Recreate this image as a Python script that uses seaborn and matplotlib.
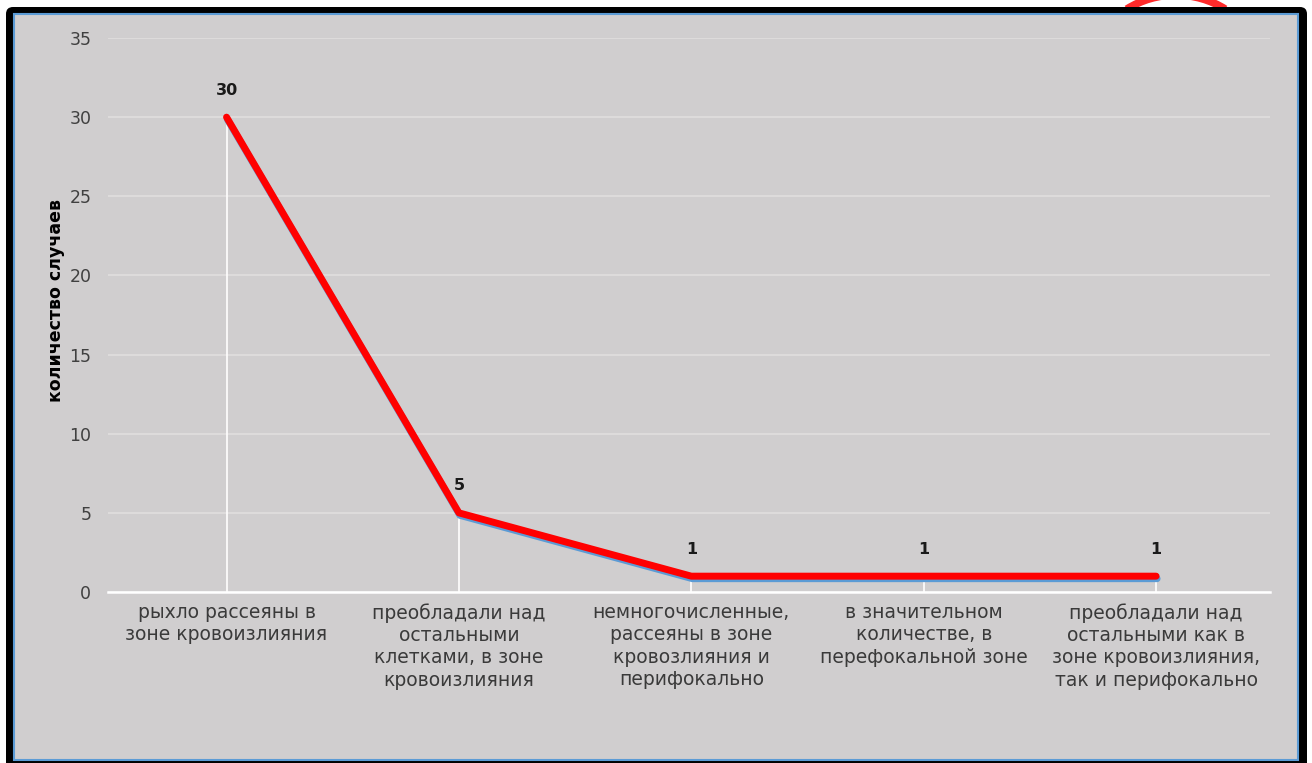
import matplotlib
matplotlib.use('Agg')
import matplotlib.pyplot as plt
import matplotlib.transforms as mtransforms
from matplotlib.patches import FancyBboxPatch, Rectangle, Arc
import numpy as np
import pandas as pd
import seaborn as sns

#%% data
categories = ['рыхло рассеяны в\nзоне кровоизлияния',
              'преобладали над\nостальными\nклетками, в зоне\nкровоизлияния',
              'немногочисленные,\nрассеяны в зоне\nкровозлияния и\nперифокально',
              'в значительном\nколичестве, в\nперефокальной зоне',
              'преобладали над\nостальными как в\nзоне кровоизлияния,\nтак и перифокально']
cases = [30, 5, 1, 1, 1]
yticks = [0, 5, 10, 15, 20, 25, 30, 35]

df = pd.DataFrame({'pos': np.arange(len(categories)), 'cases': cases})

#%% figure
sns.set_theme(style='white')
plt.rcParams['font.family'] = ['DejaVu Sans']

fig = plt.figure(figsize=(13.12, 7.63), dpi=100)
fig.patch.set_facecolor('white')

# background frame in pixel coords
bg = fig.add_axes([0, 0, 1, 1], zorder=0)
bg.set_xlim(0, 1312)
bg.set_ylim(763, 0)
bg.axis('off')
# red pen mark peeking out above the frame (only the top bit of it)
bg.add_patch(Arc((1176, 88), 186, 186, theta1=238, theta2=302,
                 edgecolor='#ff2a2a', lw=5.5, zorder=1))
bg.add_patch(FancyBboxPatch((6, 7), 1301, 780, boxstyle='round,pad=0,rounding_size=7',
                            facecolor='black', edgecolor='none', zorder=2))
bg.add_patch(Rectangle((14, 14), 1284, 746, facecolor='#d0cecf',
                       edgecolor='#5b9bd5', lw=1.5, zorder=3))

ax = fig.add_axes([108/1312, 1-592/763, (1270-108)/1312, (592-38)/763], zorder=1)
ax.set_facecolor('#d0cecf')
ax.patch.set_alpha(0)

# drop lines
ax.vlines(df['pos'], 0, df['cases'], color='white', lw=1.2, zorder=2)

# shadow then the red line
shadow = mtransforms.offset_copy(ax.transData, fig=fig, x=1.0, y=-2.5, units='dots')
sns.lineplot(data=df, x='pos', y='cases', ax=ax, color='#5b9bd5', lw=5,
             solid_capstyle='round', transform=shadow, zorder=3)
sns.lineplot(data=df, x='pos', y='cases', ax=ax, color='#ff0000', lw=5,
             solid_capstyle='round', zorder=4)

for x, y in zip(df['pos'], df['cases']):
    ax.annotate(str(y), (x, y), xytext=(0, 19.5), textcoords='offset points',
                ha='center', va='center', fontsize=11.5, fontweight='bold', color='#1a1a1a')

ax.set_xlim(-0.51, 4.49)
ax.set_ylim(0, 35)
ax.set_yticks(yticks)
ax.yaxis.grid(True, color='#e0dede', lw=1.2)
ax.set_axisbelow(True)
ax.set_xticks(df['pos'])
ax.set_xticklabels(categories, fontsize=13.5, color='#3a3a3a', linespacing=1.22)
ax.tick_params(axis='x', length=0, pad=8)
ax.tick_params(axis='y', length=0, pad=12, labelsize=12.5, labelcolor='#404040')
for s in ['top', 'right', 'left']:
    ax.spines[s].set_visible(False)
ax.spines['bottom'].set_color('white')
ax.spines['bottom'].set_linewidth(1.8)
ax.set_xlabel('')
ax.set_ylabel('количество случаев', fontsize=12.5, fontweight='bold', color='black')
ax.yaxis.set_label_coords(-0.037, 0.527)

plt.savefig('out.png', dpi=100)
